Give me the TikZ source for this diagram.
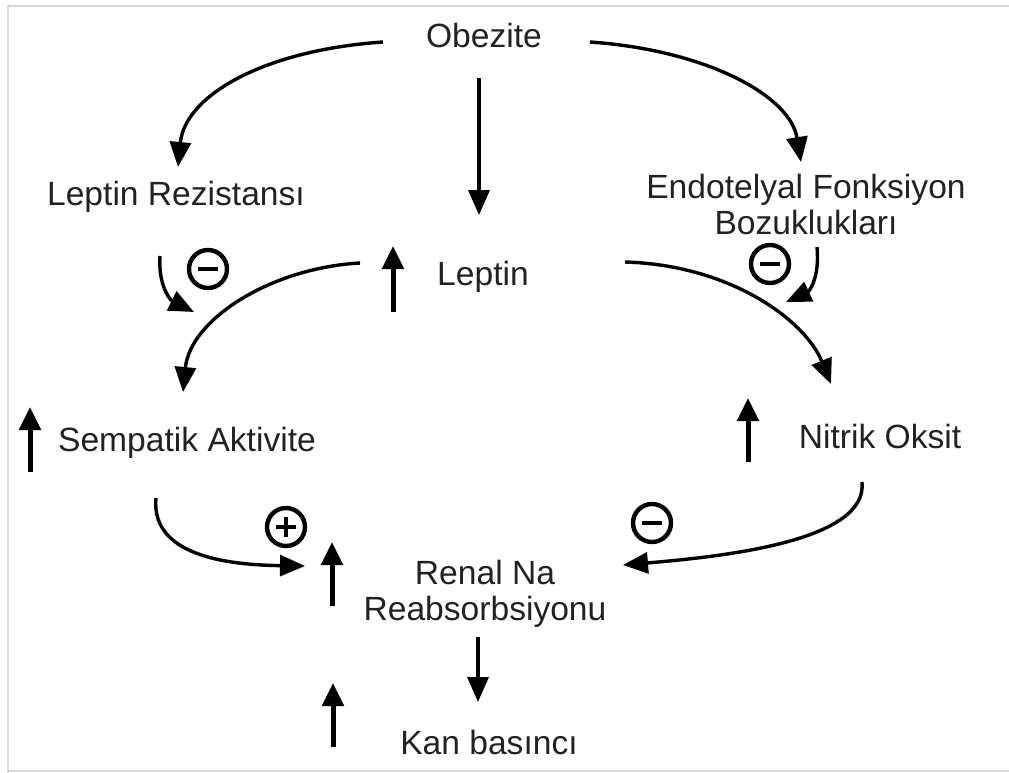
\documentclass[tikz,border=0pt]{standalone}
\usepackage{fontspec}
\setmainfont{Liberation Sans}
\usetikzlibrary{arrows.meta}
\definecolor{txt}{HTML}{222222}
\definecolor{frame}{HTML}{D8D8D8}
\begin{document}
\begin{tikzpicture}[x=1pt,y=-1pt,
  lbl/.style={font=\fontsize{33.6}{36}\selectfont, text=txt, align=center, inner sep=0pt},
  curve/.style={line width=3.4pt, draw=black, -{Triangle[length=25pt,width=21pt]}},
  straight/.style={line width=3.6pt, draw=black, -{Triangle[length=25pt,width=21pt]}},
  uparr/.style={line width=5pt, draw=black, -{Triangle[length=23pt,width=21pt]}},
  sign/.style={circle, draw=black, line width=4.4pt, minimum size=38pt, inner sep=0pt}
]
\useasboundingbox (0,0) rectangle (1009,773);
\fill[white] (0,0) rectangle (1009,773);
\draw[frame, line width=2.5pt] (8,1000) -- (8,6) -- (1009,6);
\draw[frame, line width=2.5pt] (8,771) -- (1009,771);

% texts
\node[lbl] (obez) at (484,35) {Obezite};
\node[lbl] (lrez) at (176,197) {Leptin Rezistansı};
\node[lbl] (endo) at (806,204) {Endotelyal Fonksiyon\\Bozuklukları};
\node[lbl] (lep) at (483,277) {Leptin};
\node[lbl] (semp) at (187,443) {Sempatik Aktivite};
\node[lbl] (nitr) at (880,436) {Nitrik Oksit};
\node[lbl] (renal) at (485,594) {Renal Na\\Reabsorbsiyonu};
\node[lbl] (kan) at (489,742) {Kan basıncı};

% coordinates
\coordinate (oL) at (383,42);
\coordinate (rezT) at (178,167);
\coordinate (oR) at (590,42);
\coordinate (endT) at (801,162);
\coordinate (oD) at (479,78);
\coordinate (lepT) at (479,215);
\coordinate (rzS) at (160,256);
\coordinate (rzT) at (194,312);
\coordinate (enS) at (817,247);
\coordinate (enT) at (786,302);
\coordinate (lpL) at (360,263);
\coordinate (smT) at (183,392);
\coordinate (lpR) at (625,262);
\coordinate (niT) at (831,384);
\coordinate (smS) at (156,498);
\coordinate (reL) at (305,566);
\coordinate (niS) at (862,482);
\coordinate (reR) at (623,565);
\coordinate (reD) at (478,637);
\coordinate (kanT) at (478,702);

% curved arrows
\draw[curve] (oL) .. controls (265,50) and (185,95) .. (rezT);
\draw[curve] (oR) .. controls (705,50) and (790,95) .. (endT);
\draw[straight] (oD) -- (lepT);
\draw[curve] (rzS) .. controls (158,285) and (170,300) .. (rzT);
\draw[curve] (enS) .. controls (820,280) and (808,292) .. (enT);
\draw[curve] (lpL) .. controls (270,268) and (190,320) .. (smT);
\draw[curve] (lpR) .. controls (730,265) and (805,320) .. (niT);
\draw[curve] (smS) .. controls (150,560) and (240,565) .. (reL);
\draw[curve] (niS) .. controls (868,540) and (730,556) .. (reR);
\draw[straight] (reD) -- (kanT);

% up arrows
\draw[uparr] (393,312) -- (393,246);
\draw[uparr] (30,472) -- (30,407);
\draw[uparr] (748,462) -- (748,398);
\draw[uparr] (332,606) -- (332,542);
\draw[uparr] (333,747) -- (333,683);

% signs
\node[sign] (m1) at (208,269) {};
\draw[line width=4.4pt] ([xshift=-10pt]m1.center) -- ([xshift=10pt]m1.center);
\node[sign] (m2) at (770,264) {};
\draw[line width=4.4pt] ([xshift=-10pt]m2.center) -- ([xshift=10pt]m2.center);
\node[sign] (m3) at (652,523) {};
\draw[line width=4.4pt] ([xshift=-10pt]m3.center) -- ([xshift=10pt]m3.center);
\node[sign] (p1) at (286,527) {};
\draw[line width=4.4pt] ([xshift=-10pt]p1.center) -- ([xshift=10pt]p1.center);
\draw[line width=4.4pt] ([yshift=-10pt]p1.center) -- ([yshift=10pt]p1.center);
\end{tikzpicture}
\end{document}
